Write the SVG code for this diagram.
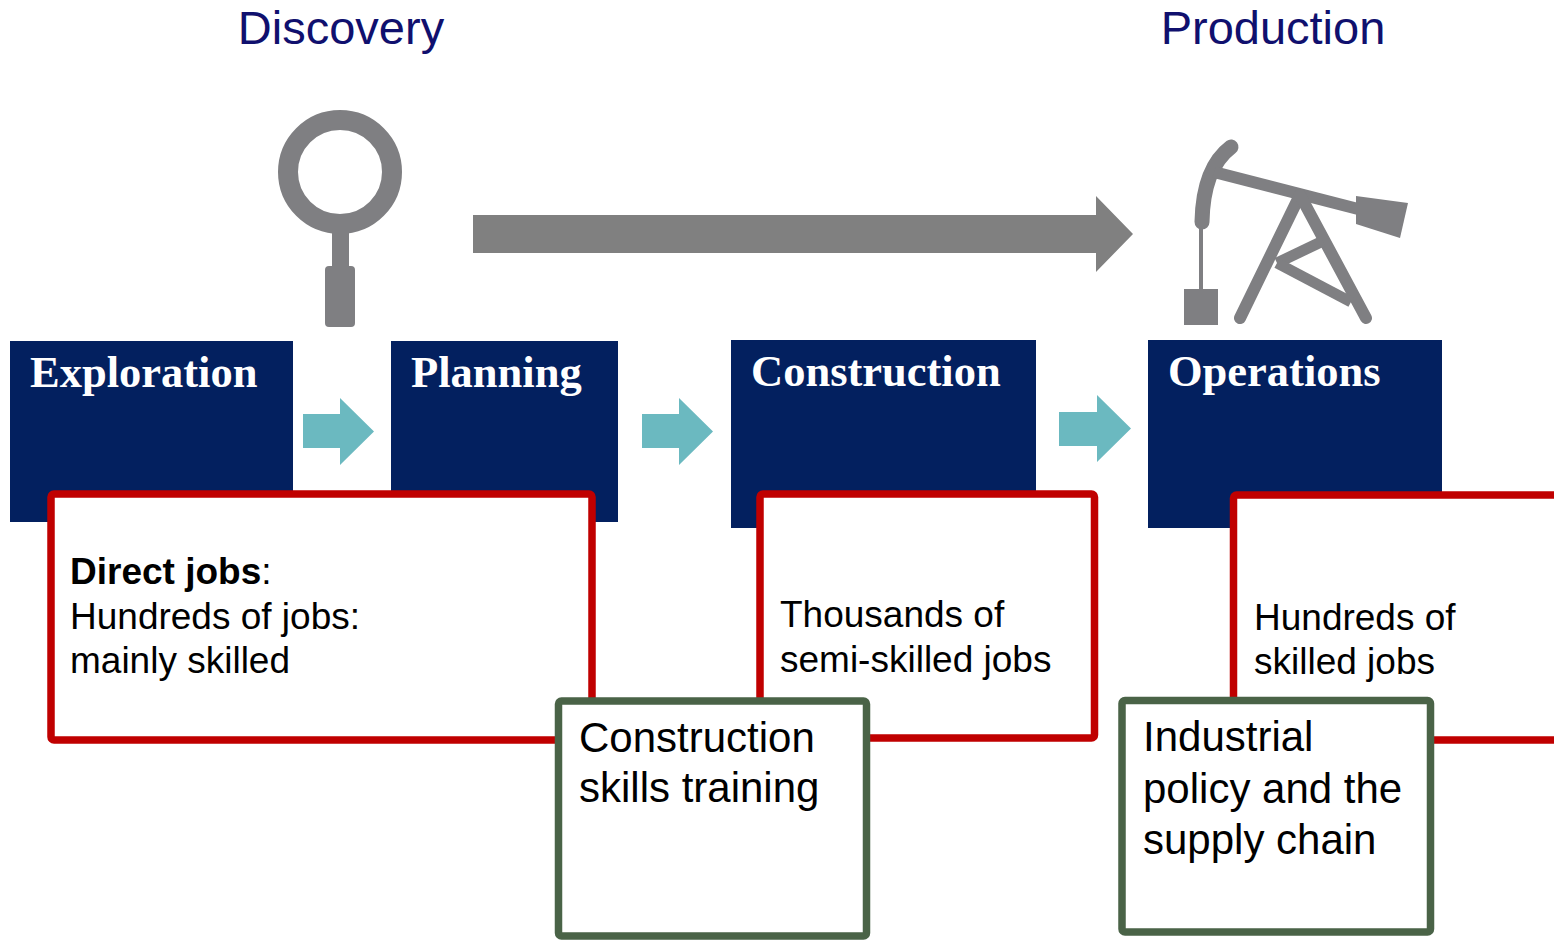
<svg xmlns="http://www.w3.org/2000/svg" width="1554" height="940" viewBox="0 0 1554 940">
<style>
.title{font-family:"Liberation Sans",Arial,sans-serif;font-size:47px;fill:#10106e}
.stage{fill:#03205f}
.stxt{font-family:"Liberation Serif","Times New Roman",serif;font-weight:bold;font-size:44.5px;fill:#ffffff}
.red{fill:#ffffff;stroke:#c00000;stroke-width:7.5}
.green{fill:#ffffff;stroke:#4a6347;stroke-width:7.5}
.body{font-family:"Liberation Sans",Arial,sans-serif;font-size:37px;fill:#000000}
.big{font-family:"Liberation Sans",Arial,sans-serif;font-size:42px;fill:#000000}
.teal{fill:#6bb9c0}
.icon{fill:#7f7f82;stroke:#7f7f82}
</style>
<rect width="1554" height="940" fill="#ffffff"/>

<g id="title-discovery"><text class="title" x="341" y="44" text-anchor="middle">Discovery</text></g>
<g id="title-production"><text class="title" x="1273" y="44" text-anchor="middle">Production</text></g>

<g id="icon-magnifier">
  <circle cx="340" cy="172" r="52" fill="none" stroke="#7f7f82" stroke-width="20"/>
  <rect x="332" y="228" width="17" height="44" fill="#7f7f82"/>
  <rect x="325" y="266" width="30" height="61" rx="4" fill="#7f7f82"/>
</g>

<g id="icon-pumpjack">
  <line x1="1201" y1="222" x2="1201" y2="292" stroke="#7f7f82" stroke-width="4"/>
  <rect x="1184" y="289" width="34" height="36" fill="#7f7f82"/>
  <path d="M1231,147 Q1203,168 1202,222" fill="none" stroke="#7f7f82" stroke-width="15" stroke-linecap="round"/>
  <line x1="1214" y1="172" x2="1362" y2="210" stroke="#7f7f82" stroke-width="12"/>
  <polygon points="1356,196 1408,203 1400,238 1356,224" fill="#7f7f82"/>
  <line x1="1300" y1="195" x2="1240" y2="318" stroke="#7f7f82" stroke-width="12" stroke-linecap="round"/>
  <line x1="1300" y1="195" x2="1366" y2="318" stroke="#7f7f82" stroke-width="12" stroke-linecap="round"/>
  <line x1="1277" y1="263" x2="1323" y2="241" stroke="#7f7f82" stroke-width="11"/>
  <line x1="1277" y1="263" x2="1351" y2="302" stroke="#7f7f82" stroke-width="11"/>
</g>

<g id="connectors">
  <polygon fill="#808080" points="473,215 1096,215 1096,196 1133,234 1096,272 1096,253 473,253"/>
  <polygon class="teal" points="303,414 340,414 340,398 374,431.5 340,465 340,448 303,448"/>
  <polygon class="teal" points="642,414 679,414 679,398 713,431.5 679,465 679,448 642,448"/>
  <polygon class="teal" points="1059,412 1097,412 1097,395 1131,428.5 1097,462 1097,446 1059,446"/>
</g>

<g id="node-exploration">
  <rect class="stage" x="10" y="341" width="283" height="181"/>
  <text class="stxt" x="30" y="387">Exploration</text>
</g>
<g id="node-planning">
  <rect class="stage" x="391" y="341" width="227" height="181"/>
  <text class="stxt" x="411" y="387">Planning</text>
</g>
<g id="node-construction">
  <rect class="stage" x="731" y="340" width="305" height="188"/>
  <text class="stxt" x="751" y="386">Construction</text>
</g>
<g id="node-operations">
  <rect class="stage" x="1148" y="340" width="294" height="188"/>
  <text class="stxt" x="1168" y="386">Operations</text>
</g>

<g id="node-jobs-discovery">
  <rect class="red" x="51" y="494" width="541" height="246" rx="3"/>
  <text class="body" x="70" y="584"><tspan font-weight="bold">Direct jobs</tspan>:</text>
  <text class="body" x="70" y="629">Hundreds of jobs:</text>
  <text class="body" x="70" y="673">mainly skilled</text>
</g>
<g id="node-jobs-construction">
  <rect class="red" x="760" y="494" width="334.5" height="244" rx="3"/>
  <text class="body" x="780" y="627">Thousands of</text>
  <text class="body" x="780" y="672">semi-skilled jobs</text>
</g>
<g id="node-jobs-operations">
  <rect class="red" x="1233.5" y="495" width="340" height="245" rx="3"/>
  <text class="body" x="1254" y="630">Hundreds of</text>
  <text class="body" x="1254" y="674">skilled jobs</text>
</g>

<g id="node-skills-training">
  <rect class="green" x="558.5" y="701" width="308" height="235" rx="3"/>
  <text class="big" x="579" y="752">Construction</text>
  <text class="big" x="579" y="802">skills training</text>
</g>
<g id="node-industrial-policy">
  <rect class="green" x="1122" y="700.5" width="308.5" height="231.5" rx="3"/>
  <text class="big" x="1143" y="751">Industrial</text>
  <text class="big" x="1143" y="803">policy and the</text>
  <text class="big" x="1143" y="854">supply chain</text>
</g>
</svg>
